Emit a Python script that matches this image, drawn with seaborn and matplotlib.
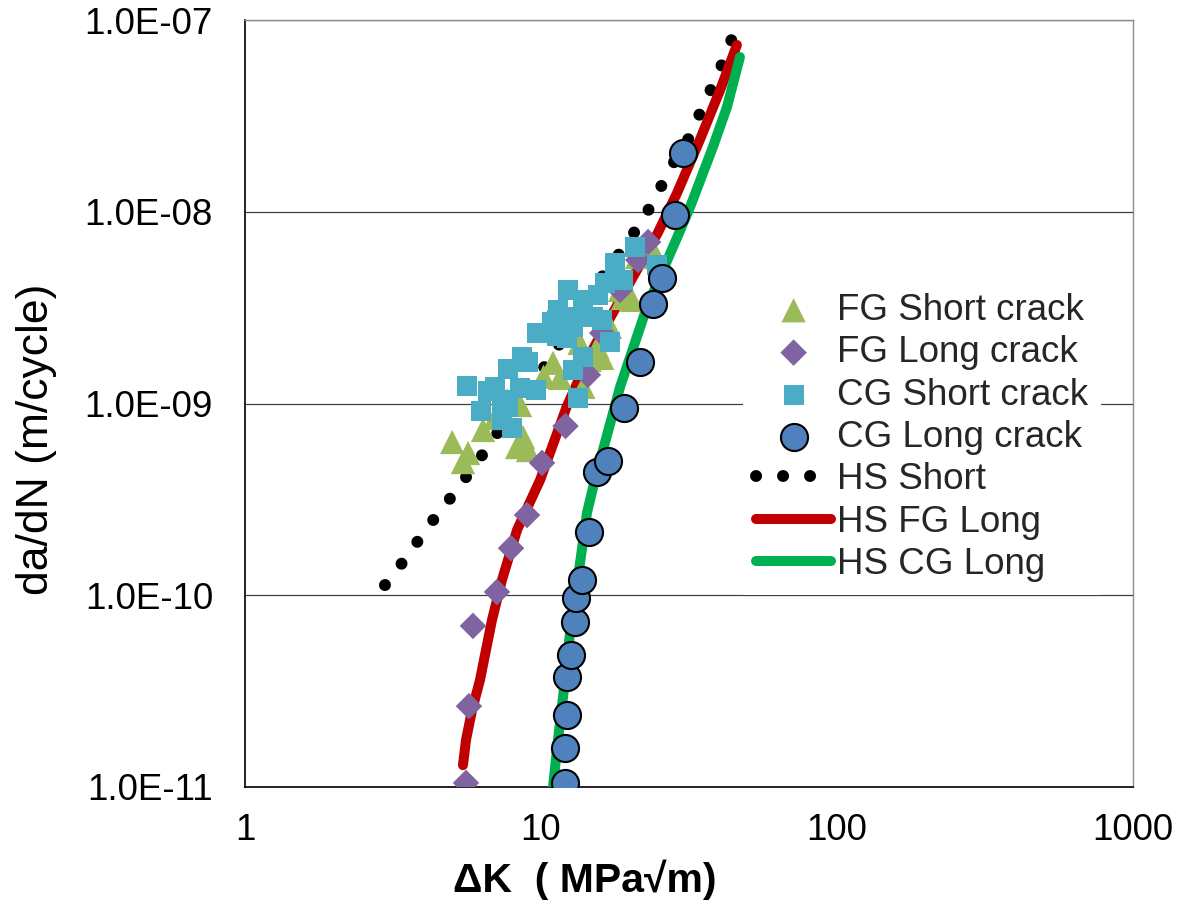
import numpy as np
import pandas as pd
import matplotlib
matplotlib.use("Agg")
import matplotlib.pyplot as plt
import seaborn as sns
from matplotlib.ticker import FixedLocator, FuncFormatter, NullLocator

# ---------------- data ----------------
fg_short_dk = [5.01, 5.45, 5.67, 6.37, 6.99, 7.68, 8.30, 8.69, 9.04, 8.49, 10.2, 10.98,
               11.6, 13.5, 13.9, 14.6, 15.5, 16.1, 17.1, 18.5, 18.9, 20.3, 21.1, 23.9]
fg_short_rate = [6.30e-10, 4.95e-10, 5.52e-10, 7.28e-10, 8.40e-10, 1.04e-9, 5.93e-10, 6.69e-10,
                 5.72e-10, 9.82e-10, 1.38e-9, 1.63e-9, 1.36e-9, 2.07e-9, 1.22e-9, 1.69e-9,
                 1.97e-9, 1.73e-9, 2.51e-9, 3.91e-9, 3.55e-9, 3.47e-9, 5.81e-9, 6.32e-9]

fg_long_dk = [5.58, 5.71, 5.89, 7.10, 7.92, 8.97, 10.08, 12.1, 14.4, 16.1, 18.5, 21.3, 23.0]
fg_long_rate = [1.05e-11, 2.64e-11, 6.92e-11, 1.04e-10, 1.76e-10, 2.62e-10, 4.90e-10, 7.63e-10,
                1.41e-9, 2.33e-9, 3.91e-9, 5.60e-9, 6.95e-9]

cg_short_dk = [5.62, 6.27, 6.62, 6.99, 7.38, 7.74, 7.98, 7.38, 7.74, 8.62, 9.04, 8.49, 9.62,
               9.69, 10.5, 10.9, 11.3, 11.4, 11.3, 12.2, 12.2, 12.8, 12.3, 13.5, 13.9, 15.0,
               15.6, 16.1, 16.4, 17.1, 13.9, 12.8, 13.3, 17.8, 18.9, 20.8, 24.7]
cg_short_rate = [1.23e-9, 9.14e-10, 1.16e-9, 1.22e-9, 1.04e-9, 9.59e-10, 7.45e-10, 8.20e-10,
                 1.51e-9, 1.75e-9, 1.65e-9, 1.21e-9, 1.18e-9, 2.33e-9, 2.33e-9, 2.66e-9,
                 2.72e-9, 3.07e-9, 2.25e-9, 2.20e-9, 2.83e-9, 2.51e-9, 3.91e-9, 2.83e-9,
                 3.47e-9, 2.83e-9, 3.68e-9, 2.72e-9, 4.25e-9, 2.09e-9, 1.75e-9, 1.50e-9,
                 1.07e-9, 5.41e-9, 4.41e-9, 6.55e-9, 5.28e-9]

cg_long_dk = [12.05, 12.05, 12.2, 12.2, 12.6, 13.0, 13.1, 13.8, 14.5, 15.5, 16.8, 19.1,
              21.6, 23.9, 25.6, 28.4, 30.2]
cg_long_rate = [1.05e-11, 1.60e-11, 2.37e-11, 3.75e-11, 4.88e-11, 7.25e-11, 9.68e-11, 1.20e-10,
                2.14e-10, 4.39e-10, 5.01e-10, 9.48e-10, 1.65e-9, 3.30e-9, 4.51e-9, 9.62e-9,
                2.02e-8]

hs_short_dk = [2.97, 3.39, 3.84, 4.35, 4.97, 5.62, 6.37, 7.16, 8.04, 9.04, 10.4, 11.6, 13.0,
               14.6, 16.4, 18.6, 20.9, 23.4, 25.8, 28.4, 31.9, 34.7, 37.8, 41.2, 44.5]
hs_short_rate = [1.13e-10, 1.47e-10, 1.92e-10, 2.50e-10, 3.25e-10, 4.19e-10, 5.46e-10, 7.10e-10,
                 9.25e-10, 1.21e-9, 1.59e-9, 2.07e-9, 2.72e-9, 3.59e-9, 4.79e-9, 6.17e-9,
                 8.03e-9, 1.06e-8, 1.41e-8, 1.86e-8, 2.48e-8, 3.35e-8, 4.47e-8, 6.04e-8, 8.25e-8]

hs_fg_dk = [5.45, 5.58, 5.85, 6.22, 6.83, 7.38, 8.30, 9.93, 12.2, 14.6, 18.5, 24.8, 28.8,
            34.4, 40.3, 45.9]
hs_fg_rate = [1.30e-11, 1.76e-11, 2.52e-11, 3.61e-11, 7.43e-11, 1.20e-10, 2.19e-10, 3.99e-10,
              9.59e-10, 1.79e-9, 3.47e-9, 7.75e-9, 1.25e-8, 2.37e-8, 4.32e-8, 7.41e-8]

hs_cg_dk = [10.98, 11.41, 11.87, 12.53, 13.3, 14.3, 15.2, 18.5, 22.8, 28.6, 31.9, 38.1, 42.5, 47.0]
hs_cg_rate = [1.0e-11, 1.76e-11, 2.95e-11, 6.36e-11, 1.20e-10, 2.69e-10, 3.99e-10, 1.22e-9,
              3.19e-9, 7.13e-9, 1.06e-8, 2.18e-8, 3.52e-8, 6.41e-8]

x_ticks = [1, 10, 100, 1000]
x_tick_labels = ["1", "10", "100", "1000"]
y_ticks = [1e-11, 1e-10, 1e-9, 1e-8, 1e-7]
y_tick_labels = ["1.0E-11", "1.0E-10", "1.0E-09", "1.0E-08", "1.0E-07"]

# ---------------- styling ----------------
sns.set_theme(style="white")
plt.rcParams["font.family"] = ["Liberation Sans", "DejaVu Sans"]

fig = plt.figure(figsize=(11.9, 9.11), dpi=100)
ax = fig.add_axes([245 / 1190, 1 - 787 / 911, 888 / 1190, 767 / 911])
ax.set_xscale("log")
ax.set_yscale("log")

# curves
sns.lineplot(x=hs_short_dk, y=hs_short_rate, sort=False, estimator=None, ax=ax,
             color="black", linewidth=8.6, linestyle=(0, (0.01, 2.25)),
             dash_capstyle="round", label="HS Short", zorder=3)
sns.lineplot(x=hs_fg_dk, y=hs_fg_rate, sort=False, estimator=None, ax=ax,
             color="#C00000", linewidth=7.2, solid_capstyle="round",
             label="HS FG Long", zorder=3)
sns.lineplot(x=hs_cg_dk, y=hs_cg_rate, sort=False, estimator=None, ax=ax,
             color="#00B050", linewidth=7.2, solid_capstyle="round",
             label="HS CG Long", zorder=3)

# markers
sns.scatterplot(x=fg_short_dk, y=fg_short_rate, ax=ax, marker="^", s=17.5 ** 2,
                color="#9BBB59", edgecolor="none", linewidth=0, label="FG Short crack", zorder=4)
sns.scatterplot(x=fg_long_dk, y=fg_long_rate, ax=ax, marker="D", s=13.5 ** 2,
                color="#8064A2", edgecolor="none", linewidth=0, label="FG Long crack", zorder=5)
sns.scatterplot(x=cg_short_dk, y=cg_short_rate, ax=ax, marker="s", s=14.4 ** 2,
                color="#4BACC6", edgecolor="none", linewidth=0, label="CG Short crack", zorder=6)
sns.scatterplot(x=cg_long_dk, y=cg_long_rate, ax=ax, marker="o", s=19.5 ** 2,
                color="#4F81BD", edgecolor="black", linewidth=1.5, label="CG Long crack", zorder=7)

ax.set_xlim(1, 1000)
ax.set_ylim(1e-11, 1e-7)

ax.xaxis.set_major_locator(FixedLocator(x_ticks))
ax.xaxis.set_major_formatter(FuncFormatter(lambda v, p: x_tick_labels[x_ticks.index(v)] if v in x_ticks else ""))
ax.xaxis.set_minor_locator(NullLocator())
ax.yaxis.set_major_locator(FixedLocator(y_ticks))
ax.yaxis.set_major_formatter(FuncFormatter(
    lambda v, p: min(zip(y_ticks, y_tick_labels), key=lambda t: abs(np.log10(t[0]) - np.log10(v)))[1]))
ax.yaxis.set_minor_locator(NullLocator())

ax.tick_params(axis="x", length=0, pad=19, labelsize=26.5, labelcolor="black")
ax.tick_params(axis="y", length=0, pad=23, labelsize=26.5, labelcolor="black")

ax.yaxis.grid(True, color="#404040", linewidth=0.9)
ax.xaxis.grid(False)
ax.set_axisbelow(True)

for side in ["left", "bottom"]:
    ax.spines[side].set_color("#000000")
    ax.spines[side].set_linewidth(1.2)
for side in ["top", "right"]:
    ax.spines[side].set_color("#8C8C8C")
    ax.spines[side].set_linewidth(1.0)

ax.set_xlabel("ΔK  ( MPa√m)", fontsize=29.5, fontweight="bold", color="black")
ax.xaxis.set_label_coords((585 - 245) / 888, -0.0950)
ax.set_ylabel("da/dN (m/cycle)", fontsize=32, color="black")
ax.yaxis.set_label_coords((57 - 245) / 888, (787 - 439) / 767)

# legend in the reference order
handles, labels = ax.get_legend_handles_labels()
order = ["FG Short crack", "FG Long crack", "CG Short crack", "CG Long crack",
         "HS Short", "HS FG Long", "HS CG Long"]
hmap = dict(zip(labels, handles))
leg = ax.legend([hmap[o] for o in order], order, loc="center left",
                bbox_to_anchor=(743 / 1190, (911 - 437.5) / 911), bbox_transform=fig.transFigure,
                fontsize=26.5, frameon=True, facecolor="white", edgecolor="none", framealpha=1,
                borderaxespad=0, borderpad=0.35, handlelength=2.05, handletextpad=0.15,
                labelspacing=0.2, fancybox=False)
leg.set_zorder(10)

fig.savefig("out.png", dpi=100)
